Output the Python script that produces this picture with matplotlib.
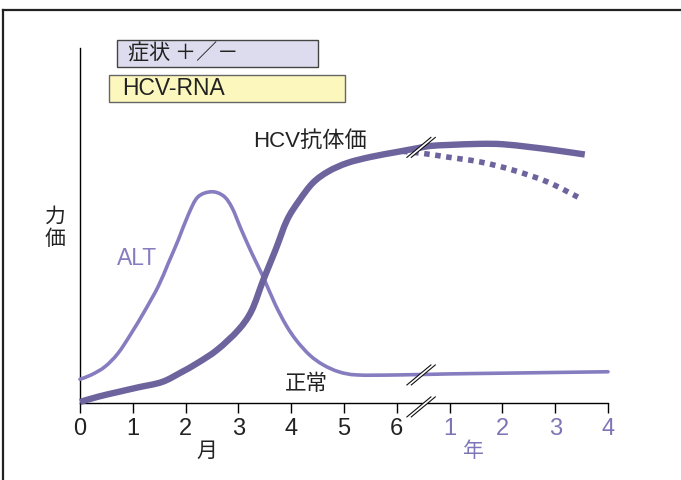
import matplotlib
matplotlib.use("Agg")
import matplotlib.pyplot as plt
from matplotlib.patches import Rectangle, Polygon, PathPatch
from matplotlib.lines import Line2D
from matplotlib.path import Path

# ---- data ----
tick_pos = [0, 1, 2, 3, 4, 5, 6, 7, 8, 9, 10]
tick_labels = ["0", "1", "2", "3", "4", "5", "6", "1", "2", "3", "4"]

alt_x = [0.0, 0.21, 0.47, 0.72, 0.97, 1.22, 1.48, 1.67, 1.86, 2.05, 2.23, 2.49, 2.72, 2.88,
         3.05, 3.26, 3.47, 3.69, 3.9, 4.1, 4.35, 4.6, 4.9, 5.25, 6.0, 7.0, 8.0, 9.0, 10.0]
alt_y = [6.7, 7.9, 10.2, 14.0, 19.6, 25.8, 32.8, 39.3, 45.9, 53.0, 58.0, 59.5, 58.3, 55,
         49, 42, 35.5, 28, 22, 17.6, 13.5, 10.8, 8.8, 7.9, 7.9, 8.2, 8.4, 8.6, 8.8]

hcv_x = [0.0, 0.35, 0.72, 1.1, 1.55, 1.9, 2.23, 2.6, 3.0, 3.25, 3.47, 3.7, 3.92,
         4.15, 4.41, 4.7, 5.06, 5.5, 6.0, 6.4, 6.63, 7.0, 7.58, 8.0, 8.52, 9.0, 9.56]
hcv_y = [0.3, 1.8, 3.1, 4.4, 5.9, 8.5, 11.3, 15, 20.6, 26, 34.6, 43, 51.5,
         57, 62, 65.2, 67.6, 69.3, 70.7, 71.8, 72.4, 72.7, 73.0, 72.9, 72.1, 71.2, 70.0]

hcv_dot_x = [6.1, 6.5, 6.95, 7.58, 8.2, 8.85, 9.43]
hcv_dot_y = [70.9, 70.3, 69.3, 67.9, 65.6, 62.3, 58.0]

ALT_C = "#857dbf"
HCV_C = "#6d649e"
YEAR_C = "#7d75b5"

CJK = ["Noto Sans CJK JP", "DejaVu Sans"]
LAT = ["Liberation Sans", "Noto Sans CJK JP", "DejaVu Sans"]
NUM = ["Liberation Sans Narrow", "Liberation Sans", "DejaVu Sans"]


def smooth_path(xs, ys):
    """Catmull-Rom curve through the points, expressed as cubic Bezier path."""
    pts = list(zip(xs, ys))
    n = len(pts)
    verts = [pts[0]]
    codes = [Path.MOVETO]
    for i in range(n - 1):
        p0 = pts[i - 1] if i > 0 else pts[i]
        p1 = pts[i]
        p2 = pts[i + 1]
        p3 = pts[i + 2] if i + 2 < n else pts[i + 1]
        c1 = (p1[0] + (p2[0] - p0[0]) / 6, p1[1] + (p2[1] - p0[1]) / 6)
        c2 = (p2[0] - (p3[0] - p1[0]) / 6, p2[1] - (p3[1] - p1[1]) / 6)
        verts += [c1, c2, p2]
        codes += [Path.CURVE4] * 3
    return Path(verts, codes)


fig = plt.figure(figsize=(6.81, 4.80), dpi=100)
ax = fig.add_axes([80/681, 1-403/480, (608-80)/681, (403-48)/480])
ax.set_xlim(0, 10)
ax.set_ylim(0, 100)

# frame around figure (top and left edges visible)
fig.add_artist(Line2D([3/681, 1.0], [1-10/480, 1-10/480], transform=fig.transFigure,
                      color="#222222", lw=1.6))
fig.add_artist(Line2D([3/681, 3/681], [0, 1-10/480], transform=fig.transFigure,
                      color="#222222", lw=1.6))

for s in ["top", "right"]:
    ax.spines[s].set_visible(False)
ax.spines["left"].set_linewidth(1.0)
ax.spines["bottom"].set_linewidth(1.0)
ax.set_yticks([])
ax.set_xticks(tick_pos)
ax.set_xticklabels(tick_labels, fontsize=17, family=NUM)
for i, lab in enumerate(ax.get_xticklabels()):
    lab.set_color("#222222" if i <= 6 else YEAR_C)
ax.tick_params(axis="x", direction="out", length=7, width=1, pad=4)

# curves
p_alt = PathPatch(smooth_path(alt_x, alt_y), fill=False, edgecolor=ALT_C, lw=2.6,
                  zorder=3, clip_on=False)
p_alt.set_capstyle("round")
ax.add_patch(p_alt)
p_dot = PathPatch(smooth_path(hcv_dot_x, hcv_dot_y), fill=False, edgecolor=HCV_C, lw=4.0,
                  linestyle=(0, (1, 1)), zorder=3, clip_on=False)
p_dot.set_capstyle("butt")
ax.add_patch(p_dot)
p_hcv = PathPatch(smooth_path(hcv_x, hcv_y), fill=False, edgecolor=HCV_C, lw=4.6,
                  zorder=4, clip_on=False)
p_hcv.set_capstyle("butt")
ax.add_patch(p_hcv)

# break marks
def brk(xb, yb):
    dx, dy, sep = 12/52.8, 10/3.55, 2.2/52.8
    ax.add_patch(Polygon([(xb-dx-sep, yb-dy), (xb+dx-sep, yb+dy), (xb+dx+sep, yb+dy),
                          (xb-dx+sep, yb-dy)], closed=True, facecolor="white",
                         edgecolor="none", zorder=5, clip_on=False))
    for s in (-sep, sep):
        ax.add_line(Line2D([xb-dx+s, xb+dx+s], [yb-dy, yb+dy], color="#111111",
                           lw=0.8, zorder=6, clip_on=False))

brk(6.46, 72.0)
brk(6.46, 7.9)
brk(6.46, -1.1)

# top boxes
ax.add_patch(Rectangle((0.70, 94.6), 3.81, 7.7, facecolor="#dddcee", edgecolor="#444444",
                       lw=1.0, clip_on=False, zorder=5))
ax.text(0.91, 98.4, "症状 ＋／－", family=CJK, fontsize=15.2, va="center", ha="left",
        color="#222222", zorder=6, clip_on=False)
ax.add_patch(Rectangle((0.55, 84.8), 4.47, 7.6, facecolor="#fcf7bd", edgecolor="#666666",
                       lw=1.0, clip_on=False, zorder=5))
ax.text(0.79, 88.6, "HCV-RNA", family=LAT, fontsize=16.5, va="center", ha="left",
        color="#222222", zorder=6, clip_on=False)

# labels
ax.text(3.28, 73.8, "HCV抗体価", family=LAT, fontsize=16, va="center", ha="left",
        color="#222222")
ax.text(0.7, 40.8, "ALT", family=LAT, fontsize=16.5, va="center", ha="left", color=ALT_C)
ax.text(3.88, 5.4, "正常", family=CJK, fontsize=15.5, va="center", ha="left", color="#222222")
fig.text(55/681, 1-228/480, "力\n価", family=CJK, fontsize=15, va="center", ha="center",
         color="#222222", linespacing=1.0)
fig.text(207/681, 1-451/480, "月", family=CJK, fontsize=15, va="center", ha="center",
         color="#222222")
fig.text(473/681, 1-451/480, "年", family=CJK, fontsize=15, va="center", ha="center",
         color=YEAR_C)

fig.savefig("out.png", dpi=100)
